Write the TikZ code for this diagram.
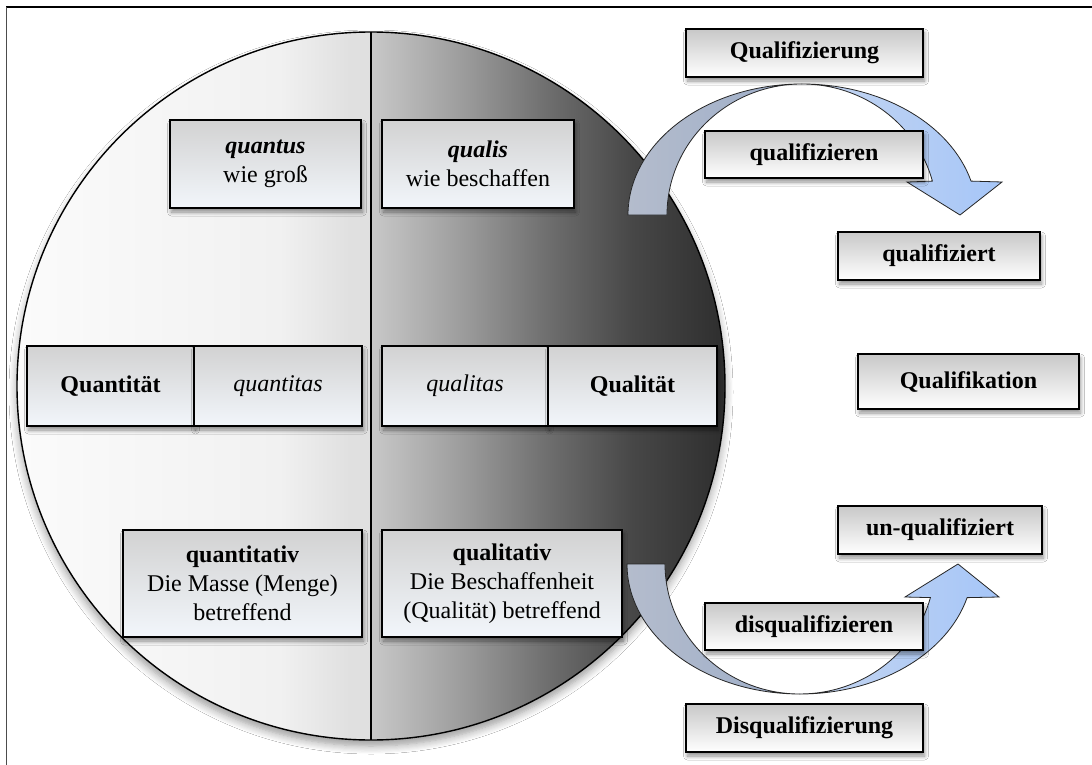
\documentclass[tikz,border=0pt]{standalone}
\usepackage{fontspec}
\setmainfont{Liberation Serif}
\usetikzlibrary{shadows.blur}

% colours
\definecolor{lhA}{HTML}{FBFBFB}
\definecolor{lhB}{HTML}{F1F1F1}
\definecolor{lhC}{HTML}{E0E0E0}
\definecolor{dhA}{HTML}{C8C8C8}
\definecolor{dhB}{HTML}{9C9C9C}
\definecolor{dhC}{HTML}{6E6E6E}
\definecolor{dhD}{HTML}{474747}
\definecolor{dhE}{HTML}{2E2E2E}
\definecolor{boxTop}{HTML}{D2D2D2}
\definecolor{boxBot}{HTML}{F2F6FB}
\definecolor{tagTop}{HTML}{C8C8C8}
\definecolor{backL}{HTML}{B4BCCC}
\definecolor{backR}{HTML}{9CADC9}
\definecolor{frontL}{HTML}{C6D6F0}
\definecolor{frontR}{HTML}{A6C6F8}

% horizontal shadings of the two half discs
\pgfdeclarehorizontalshading{lighthalf}{100bp}{color(0bp)=(lhA); color(25bp)=(lhA); color(62bp)=(lhB); color(72bp)=(lhC); color(75bp)=(lhC); color(100bp)=(lhC)}
\pgfdeclarehorizontalshading{darkhalf}{100bp}{color(0bp)=(dhA); color(25bp)=(dhA); color(38bp)=(dhB); color(50bp)=(dhC); color(62bp)=(dhD); color(75bp)=(dhE); color(100bp)=(dhE)}

\tikzset{
  txt/.style={font=\fontsize{24}{29}\selectfont, align=center},
  boxshadow/.style={blur shadow={shadow xshift=1.5pt, shadow yshift=-4pt, shadow blur radius=4pt, shadow blur steps=8, shadow opacity=45}},
  cbox/.style={txt, draw=black, line width=1.2pt, top color=boxTop, bottom color=boxBot, inner sep=0pt, boxshadow},
  rbox/.style={txt, font=\fontsize{24}{29}\selectfont\bfseries, draw=black, line width=1.2pt, top color=tagTop, bottom color=white, inner sep=0pt, minimum height=48pt, boxshadow},
  backpart/.style={draw=black!85, line width=0.8pt, left color=backL, right color=backR},
  frontpart/.style={draw=black!85, line width=0.8pt, left color=frontL, right color=frontR},
}

\begin{document}
\begin{tikzpicture}[x=1pt, y=-1pt]
\useasboundingbox (0,0) rectangle (1092,765);
\fill[white] (0,0) rectangle (1092,765);

% frame
\draw[line width=1.6pt] (6,7) -- (1092,7);
\draw[line width=1.2pt, black!70] (6.5,7) -- (6.5,765);

% disc with its two shaded halves
\node[circle, minimum size=708pt, inner sep=0pt, fill=white,
      blur shadow={shadow xshift=0pt, shadow yshift=-6pt, shadow blur radius=8pt, shadow blur steps=8, shadow opacity=40}] (disc) at (371,386) {};
\begin{scope}
  \clip (disc.center) circle[radius=354pt];
  \shade[shading=lighthalf] (17,32) rectangle (371,740);
  \shade[shading=darkhalf] (371,32) rectangle (725,740);
\end{scope}
\draw[line width=1.4pt] (disc.center) circle[radius=354pt];
\draw[line width=1.3pt] (disc.north) -- (disc.south);

% upper curved arrow
\draw[backpart] (628,215) arc[start angle=180, end angle=90, x radius=174pt, y radius=131pt]
                arc[start angle=90, end angle=180, x radius=135pt, y radius=131pt] -- cycle;
\draw[frontpart] (802,84) arc[start angle=90, end angle=15, x radius=175pt, y radius=131pt]
                 -- (1002,182) -- (960,215) -- (907,182) -- (932.4,181.1)
                 arc[start angle=15, end angle=90, x radius=135pt, y radius=131pt] -- cycle;

% lower curved arrow
\draw[backpart] (627,564) arc[start angle=180, end angle=270, x radius=173pt, y radius=130pt]
                arc[start angle=270, end angle=180, x radius=135pt, y radius=130pt] -- cycle;
\draw[frontpart] (800,694) arc[start angle=270, end angle=345, x radius=173pt, y radius=130pt]
                 -- (999,597) -- (958,564) -- (905,597) -- (930.4,597.6)
                 arc[start angle=345, end angle=270, x radius=135pt, y radius=130pt] -- cycle;

% boxes inside the disc
\node[cbox, minimum width=191pt, minimum height=88pt] (quantus) at (265.5,164) {\textbf{\textit{quantus}}\\wie groß};
\node[cbox, minimum width=192pt, minimum height=88pt] (qualis) at (478,164) {\textbf{\textit{qualis}}\\wie beschaffen};

\node[cbox, minimum width=167pt, minimum height=80pt] (quantitaet) at (110.5,386) {\textbf{Quantität}};
\node[cbox, minimum width=168pt, minimum height=80pt] (quantitas) at (278,386) {\textit{quantitas}};
\node[cbox, minimum width=166pt, minimum height=80pt] (qualitas) at (465,386) {\textit{qualitas}};
\node[cbox, minimum width=169pt, minimum height=80pt] (qualitaet) at (632.5,386) {\textbf{Qualität}};

\node[cbox, minimum width=239pt, minimum height=107pt] (quantitativ) at (242.5,583.5) {\textbf{quantitativ}\\Die Masse (Menge)\\betreffend};
\node[cbox, minimum width=240pt, minimum height=107pt] (qualitativ) at (502,583.5) {\textbf{qualitativ}\\Die Beschaffenheit\\(Qualität) betreffend};

% labels on the right
\node[rbox, minimum width=237pt] (qualifizierung) at (804.5,53) {Qualifizierung};
\node[rbox, minimum width=218pt, minimum height=47pt] (qualifizieren) at (814,154.5) {qualifizieren};
\node[rbox, minimum width=202pt] (qualifiziert) at (939,256) {qualifiziert};
\node[rbox, minimum width=221pt, minimum height=55pt] (qualifikation) at (968.5,381.5) {Qualifikation};
\node[rbox, minimum width=204pt] (unqualifiziert) at (940,530) {un-qualifiziert};
\node[rbox, minimum width=218pt, minimum height=47pt] (disqualifizieren) at (814,626.5) {disqualifizieren};
\node[rbox, minimum width=237pt] (disqualifizierung) at (804.5,728) {Disqualifizierung};
\end{tikzpicture}
\end{document}
